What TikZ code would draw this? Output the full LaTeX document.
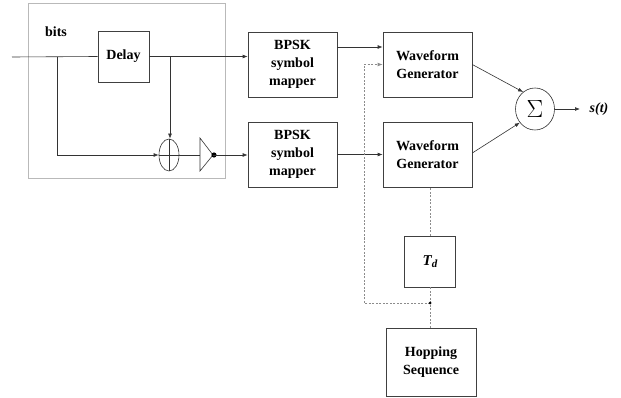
\documentclass[tikz,border=0pt]{standalone}
\usepackage{fontspec}
\setmainfont{Liberation Serif}
\usetikzlibrary{arrows.meta,shapes.geometric,calc}
\begin{document}
\begin{tikzpicture}[x=1pt,y=-1pt,
  line width=0.6pt,
  ln/.style={draw=black!80},
  arr/.style={ln,-{Latex[length=5pt,width=3.8pt]}},
  dot/.style={draw=gray!90,dash pattern=on 2pt off 1.5pt,line width=0.8pt},
  darr/.style={dot,-{Latex[length=5pt,width=3.8pt]}},
  blk/.style={draw=black!75,rectangle,inner sep=0pt,align=center,
     font=\fontsize{14}{18}\selectfont\bfseries},
  lbl/.style={font=\fontsize{14}{18}\selectfont\bfseries,inner sep=0pt}]
\useasboundingbox (0,0) rectangle (621,398);
\fill[white] (0,0) rectangle (621,398);
% outer grey box
\node[draw=gray!55,rectangle,minimum width=197pt,minimum height=175pt,inner sep=0pt] (outer) at (126.5,90.5) {};
\node[lbl] (bits) at (56,32) {bits};
\node[blk,minimum width=51pt,minimum height=51pt] (delay) at (123.5,56.5) {Delay};
\node[draw=black!80,ellipse,minimum width=20pt,minimum height=32pt,inner sep=0pt] (xor) at (169,155) {};
\draw[ln] (xor.north) -- (xor.south) (xor.west) -- (xor.east);
% amplifier triangle
\coordinate (trl) at (200,155);
\coordinate (trt) at (213,155);
\draw[ln] (200,138) -- (213,155) -- (200,171) -- cycle;
\fill (214,155) circle (2.6pt);
\node[blk,minimum width=89pt,minimum height=65pt] (bpsk1) at (292.5,64.5) {BPSK\\symbol\\mapper};
\node[blk,minimum width=89pt,minimum height=65pt] (bpsk2) at (292.5,154.5) {BPSK\\symbol\\mapper};
\node[blk,minimum width=89pt,minimum height=65pt] (wg1) at (427.5,64.5) {Waveform\\Generator};
\node[blk,minimum width=89pt,minimum height=65pt] (wg2) at (427.5,154.5) {Waveform\\Generator};
\node[draw=black!80,ellipse,minimum width=39pt,minimum height=42pt,inner sep=0pt] (sum) at (535,109) {\fontsize{28}{28}\selectfont$\Sigma$};
\node[font=\fontsize{14}{16}\selectfont\bfseries\itshape,inner sep=0pt] (st) at (599,109) {s(t)};
\coordinate (sout) at (580,109);
\node[blk,minimum width=51pt,minimum height=51pt,font=\fontsize{15}{16}\selectfont\bfseries\itshape] (td) at (430,261.5) {T\raisebox{-0.3ex}{\fontsize{11}{11}\selectfont d}};
\node[blk,minimum width=90pt,minimum height=68pt] (hop) at (431,362) {Hopping\\Sequence};
% coordinates
\coordinate (in) at (12,57);
\coordinate (b1) at (57,57);
\coordinate (b2) at (170,57);
\coordinate (jd) at (430,303);
\coordinate (jl) at (364,303);
% signal path
\draw[ln] (in) -- (delay.west);
\draw[arr] (b1) |- (xor.west);
\draw[arr] (delay.east) -- (bpsk1.west |- delay.east);
\draw[arr] (b2) -- (b2 |- xor.north);
\draw[ln] (xor.east) -- (trl);
\draw[arr] (trt) -- (bpsk2.west |- trt);
\draw[arr] ([yshift=17.5pt]bpsk1.east) -- ([yshift=17.5pt]wg1.west);
\draw[arr] (bpsk2.east) -- (wg2.west);
\draw[arr] (wg1.east) -- (sum.125);
\draw[arr] ([yshift=1.5pt]wg2.east) -- (sum.222);
\draw[arr] (sum.east) -- (sout);
% hopping control
\draw[dot] (hop.north -| jd) -- (jd) -- (td.south -| jd);
\draw[dot] (td.north -| jd) -- (wg2.south -| jd);
\draw[darr] (jd) -- (jl) -- (jl |- wg1.west) -- (wg1.west);
\fill[black] (jd) circle (1.5pt);
\end{tikzpicture}
\end{document}
